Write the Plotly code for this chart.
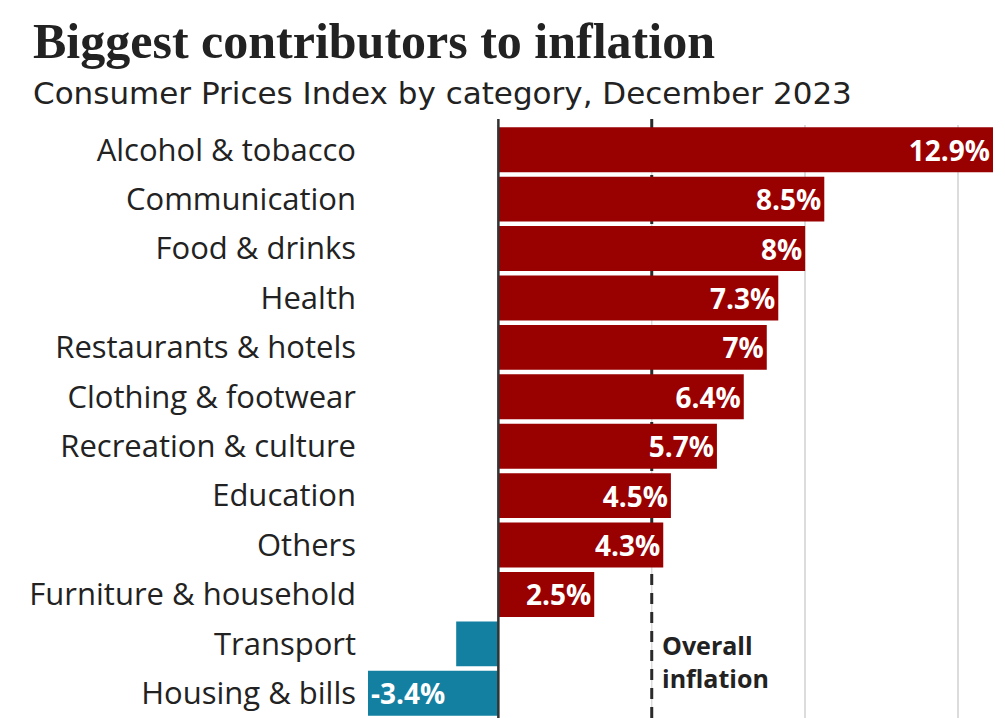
import plotly.graph_objects as go

categories = ["Alcohol & tobacco", "Communication", "Food & drinks", "Health",
              "Restaurants & hotels", "Clothing & footwear", "Recreation & culture",
              "Education", "Others", "Furniture & household", "Transport", "Housing & bills"]
values = [12.9, 8.5, 8.0, 7.3, 7.0, 6.4, 5.7, 4.5, 4.3, 2.5, -1.1, -3.4]
overall_inflation = 4.0
grid_values = [0, 8, 12]
title = "Biggest contributors to inflation"
subtitle = "Consumer Prices Index by category, December 2023"

RED = "#990000"
BLUE = "#1380A1"

colors = [RED if v >= 0 else BLUE for v in values]
labels = [(f"{v:g}%" if abs(v) >= 2 else "") for v in values]

W, H = 1005, 718
ML, MR, MT, MB = 368, 12, 125, 0
pw, ph = W - ML - MR, H - MT - MB

def px_x(p):
    return (p - ML) / pw

def px_y(p):
    return (H - MB - p) / ph

fig = go.Figure(go.Bar(
    y=categories, x=values, orientation="h",
    marker=dict(color=colors, line=dict(width=0)),
    text=labels, textposition="inside", insidetextanchor="end",
    textfont=dict(family="Open Sans", size=28, color="white", weight="bold"),
    textangle=0, cliponaxis=False,
))

fig.update_layout(
    width=W, height=H,
    margin=dict(l=ML, r=MR, t=MT, b=MB, autoexpand=False),
    paper_bgcolor="white", plot_bgcolor="white",
    showlegend=False, bargap=0.09,
    xaxis=dict(range=[-3.4, 12.9], tickvals=grid_values, showgrid=True,
               gridcolor="#dcdcdc", gridwidth=1.5, zeroline=False,
               showticklabels=False, fixedrange=True),
    yaxis=dict(autorange="reversed", showgrid=False, zeroline=False,
               tickfont=dict(family="Open Sans", size=31, color="#222222"),
               ticks="", ticklabelstandoff=11),
    shapes=[
        dict(type="line", xref="x", yref="paper", x0=overall_inflation, x1=overall_inflation,
             y0=0, y1=1.01, line=dict(color="#dcdcdc", width=1.5), layer="between"),
        dict(type="line", xref="x", yref="paper", x0=overall_inflation, x1=overall_inflation,
             y0=0, y1=1.01, line=dict(color="#2a2a2a", width=3, dash="11px,8px"),
             layer="between"),
        dict(type="line", xref="x", yref="paper", x0=0, x1=0, y0=-0.02, y1=1.01,
             line=dict(color="#333333", width=2.5), layer="above"),
    ],
    annotations=[
        dict(text="<b>" + title + "</b>", xref="paper", yref="paper",
             x=px_x(31), y=px_y(41), xanchor="left", yanchor="middle", showarrow=False,
             font=dict(family="Liberation Serif", size=50, color="#222222")),
        dict(text=subtitle, xref="paper", yref="paper",
             x=px_x(31), y=px_y(93), xanchor="left", yanchor="middle", showarrow=False,
             font=dict(family="DejaVu Sans", size=31, color="#222222")),
        dict(text="<b>Overall<br>inflation</b>", xref="x", yref="paper",
             x=overall_inflation, xshift=8, y=px_y(661), xanchor="left", yanchor="middle",
             align="left", showarrow=False,
             font=dict(family="Open Sans", size=25, color="#222222")),
    ],
)

fig.write_html("out.html")
